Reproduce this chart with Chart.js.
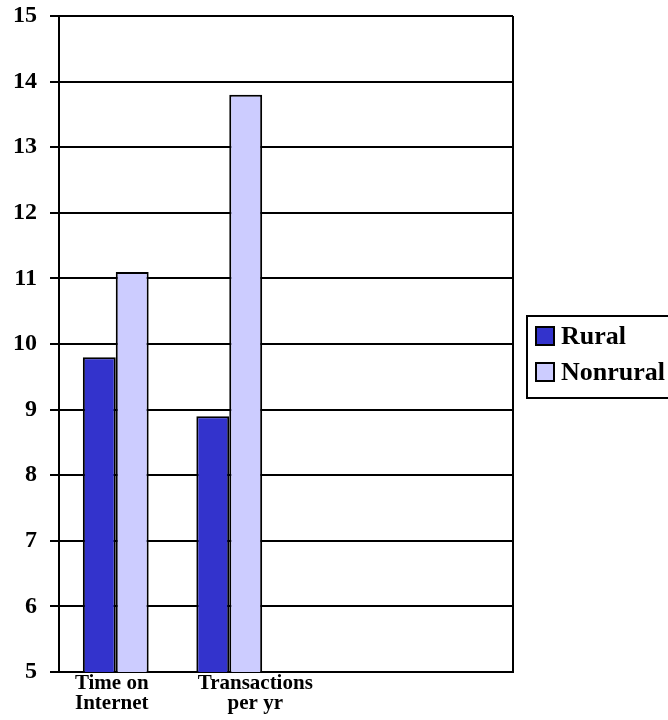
<!DOCTYPE html>
<html>
<head>
<meta charset="utf-8">
<script src="https://cdn.jsdelivr.net/npm/chart.js@4/dist/chart.umd.min.js"></script>
<style>
  html, body { margin: 0; padding: 0; background: #fff; overflow: hidden; }
  #wrap { width: 668px; height: 720px; }
</style>
</head>
<body>
<div id="wrap"><canvas id="chart" width="668" height="720"></canvas></div>
<script>
const categories = [['Time on', 'Internet'], ['Transactions', 'per yr'], '', ''];
const rural = [9.8, 8.9, null, null];
const nonrural = [11.1, 13.8, null, null];
const yTicks = [5, 6, 7, 8, 9, 10, 11, 12, 13, 14, 15];

const serif = "'Liberation Serif', 'Times New Roman', serif";

// shift the x labels a bit, like the original
const labelShift = [-4, 26, 0, 0];

const framePlugin = {
  id: 'frame',
  beforeDraw(chart) {
    const sx = chart.scales.x;
    const items = sx.getLabelItems();
    items.forEach((it, i) => {
      it.options.translation[0] = sx.getPixelForTick(i) + (labelShift[i] || 0);
    });
  },
  afterDraw(chart) {
    const ctx = chart.ctx;
    const a = chart.chartArea;
    ctx.save();
    ctx.strokeStyle = '#000';
    ctx.lineWidth = 2;
    ctx.beginPath();
    ctx.moveTo(a.right, a.top);
    ctx.lineTo(a.right, a.bottom);
    ctx.stroke();

    // legend box
    ctx.lineWidth = 2;
    ctx.strokeRect(527, 316, 200, 82);
    ctx.font = 'bold 26px ' + serif;
    ctx.textBaseline = 'middle';
    chart.data.datasets.forEach((ds, i) => {
      const y = 336 + i * 36;
      ctx.fillStyle = ds.backgroundColor;
      ctx.fillRect(536, y - 9, 18, 18);
      ctx.lineWidth = 2;
      ctx.strokeRect(536, y - 9, 18, 18);
      ctx.fillStyle = '#000';
      ctx.fillText(ds.label, 561, y + 1);
    });
    ctx.restore();
  }
};

new Chart(document.getElementById('chart'), {
  type: 'bar',
  data: {
    labels: categories,
    datasets: [
      { label: 'Rural', data: rural, backgroundColor: '#3333cc', borderColor: '#000', borderWidth: 2 },
      { label: 'Nonrural', data: nonrural, backgroundColor: '#ccccff', borderColor: '#000', borderWidth: 2 }
    ]
  },
  options: {
    responsive: false,
    animation: false,
    layout: { padding: { left: 0, right: 155, top: 0, bottom: 4 } },
    datasets: { bar: { categoryPercentage: 0.58, barPercentage: 1.0 } },
    plugins: { legend: { display: false }, tooltip: { enabled: false } },
    scales: {
      x: {
        grid: { display: false, drawTicks: false },
        border: { display: true, color: '#000', width: 2 },
        ticks: {
          color: '#000',
          padding: 2,
          maxRotation: 0,
          autoSkip: false,
          font: { family: serif, size: 21, weight: 'bold', lineHeight: 0.95 }
        }
      },
      y: {
        min: yTicks[0],
        max: yTicks[yTicks.length - 1],
        afterBuildTicks(scale) { scale.ticks = yTicks.map(v => ({ value: v })); },
        afterFit(scale) { scale.paddingTop = 16; },
        grid: { color: '#000', lineWidth: 2, tickLength: 9 },
        border: { display: true, color: '#000', width: 2 },
        ticks: {
          color: '#000',
          padding: 13,
          font: { family: serif, size: 24, weight: 'bold' }
        }
      }
    }
  },
  plugins: [framePlugin]
});
</script>
</body>
</html>
